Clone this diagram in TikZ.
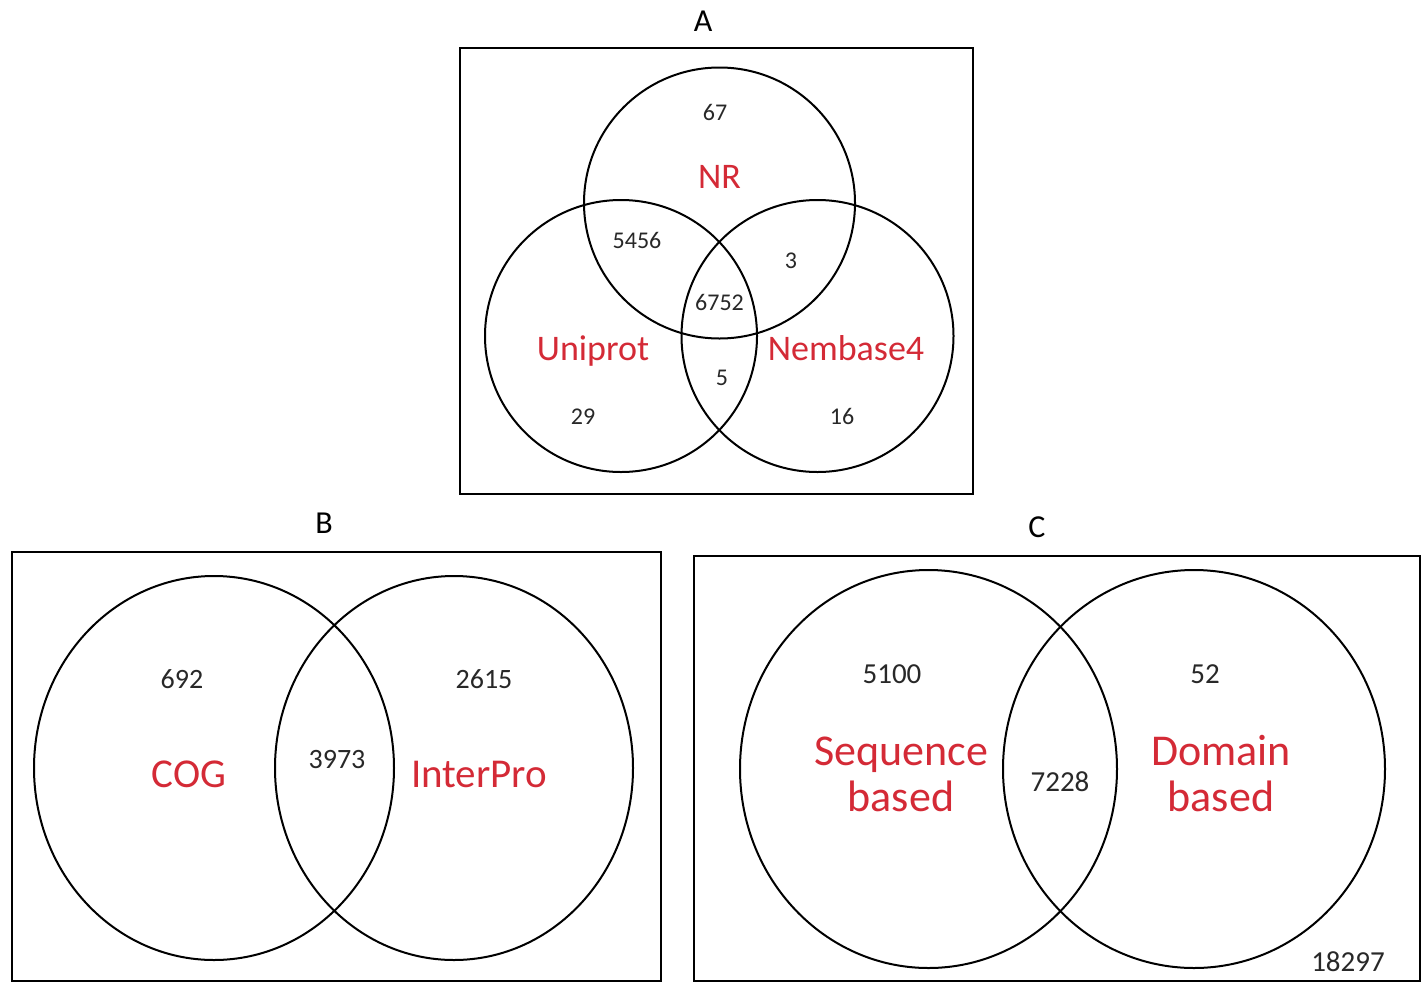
\documentclass[tikz,border=0pt]{standalone}
\usepackage{fontspec}
\setmainfont{Carlito}
\usetikzlibrary{shapes.geometric}
\definecolor{setred}{RGB}{212,42,54}
\definecolor{countgrey}{RGB}{40,40,40}
\begin{document}
\begin{tikzpicture}[x=1pt,y=-1pt,
  frame/.style={draw=black,line width=2pt},
  setring/.style={draw=black,line width=2pt,circle,inner sep=0pt,outer sep=0pt},
  setoval/.style={draw=black,line width=2pt,ellipse,inner sep=0pt,outer sep=0pt},
  panel/.style={anchor=base,inner sep=0pt,font=\fontsize{32}{36}\selectfont},
  cntA/.style={anchor=base,inner sep=0pt,text=countgrey,font=\fontsize{24}{28}\selectfont},
  cntB/.style={anchor=base,inner sep=0pt,text=countgrey,font=\fontsize{28}{32}\selectfont},
  cntC/.style={anchor=base,inner sep=0pt,text=countgrey,font=\fontsize{29}{33}\selectfont},
  nameA/.style={anchor=base,inner sep=0pt,text=setred,font=\fontsize{36}{40}\selectfont},
  nameB/.style={anchor=base,inner sep=0pt,text=setred,font=\fontsize{41}{45}\selectfont},
  nameC/.style={anchor=base,inner sep=0pt,text=setred,font=\fontsize{44}{48}\selectfont}]
\useasboundingbox (0,0) rectangle (1424,983);
\fill[white] (0,0) rectangle (1424,983);

% ---------- Panel A: three-way Venn ----------
\node[panel] (titleA) at (703,31) {A};
\draw[frame] (460,48) rectangle (973,494);
\node[setring,minimum size=271pt] (nr)  at (719.5,203) {};
\node[setring,minimum size=272pt] (uni) at (621,336) {};
\node[setring,minimum size=272pt] (nem) at (817.5,336) {};
\node[cntA]  (a67)   at (715,120) {67};
\node[nameA] (lnr)   at (719.5,188) {NR};
\node[cntA]  (a5456) at (637,248) {5456};
\node[cntA]  (a3)    at (791,268) {3};
\node[cntA]  (a6752) at (719.5,310) {6752};
\node[nameA] (luni)  at (593,360) {Uniprot};
\node[nameA] (lnem)  at (846,360) {Nembase4};
\node[cntA]  (a5)    at (722,385) {5};
\node[cntA]  (a29)   at (583,424) {29};
\node[cntA]  (a16)   at (842,424) {16};

% ---------- Panel B: COG vs InterPro ----------
\node[panel] (titleB) at (324,533) {B};
\draw[frame] (12,552) rectangle (661,981);
\node[setoval,minimum width=360pt,minimum height=384pt] (cog) at (214,768) {};
\node[setoval,minimum width=358pt,minimum height=384pt] (ipr) at (454,768) {};
\node[cntB]  (b692)  at (182,688) {692};
\node[cntB]  (b2615) at (484,688) {2615};
\node[cntB]  (b3973) at (337,768) {3973};
\node[nameB] (lcog)  at (189,787) {COG};
\node[nameB] (lipr)  at (479,787) {InterPro};

% ---------- Panel C: sequence vs domain based ----------
\node[panel] (titleC) at (1037,537) {C};
\draw[frame] (694,556) rectangle (1420,981);
\node[setoval,minimum width=377pt,minimum height=398pt] (seq) at (928.5,769) {};
\node[setoval,minimum width=382pt,minimum height=398pt] (dom) at (1194,769) {};
\node[cntC]  (c5100) at (892,683) {5100};
\node[cntC]  (c52)   at (1205,683) {52};
\node[nameC] (lseqa) at (901,765) {Sequence};
\node[nameC] (lseqb) at (901,811) {based};
\node[cntC]  (c7228) at (1060,791) {7228};
\node[nameC] (ldoma) at (1221,765) {Domain};
\node[nameC] (ldomb) at (1221,811) {based};
\node[cntC]  (c18297) at (1348,971) {18297};
\end{tikzpicture}
\end{document}
